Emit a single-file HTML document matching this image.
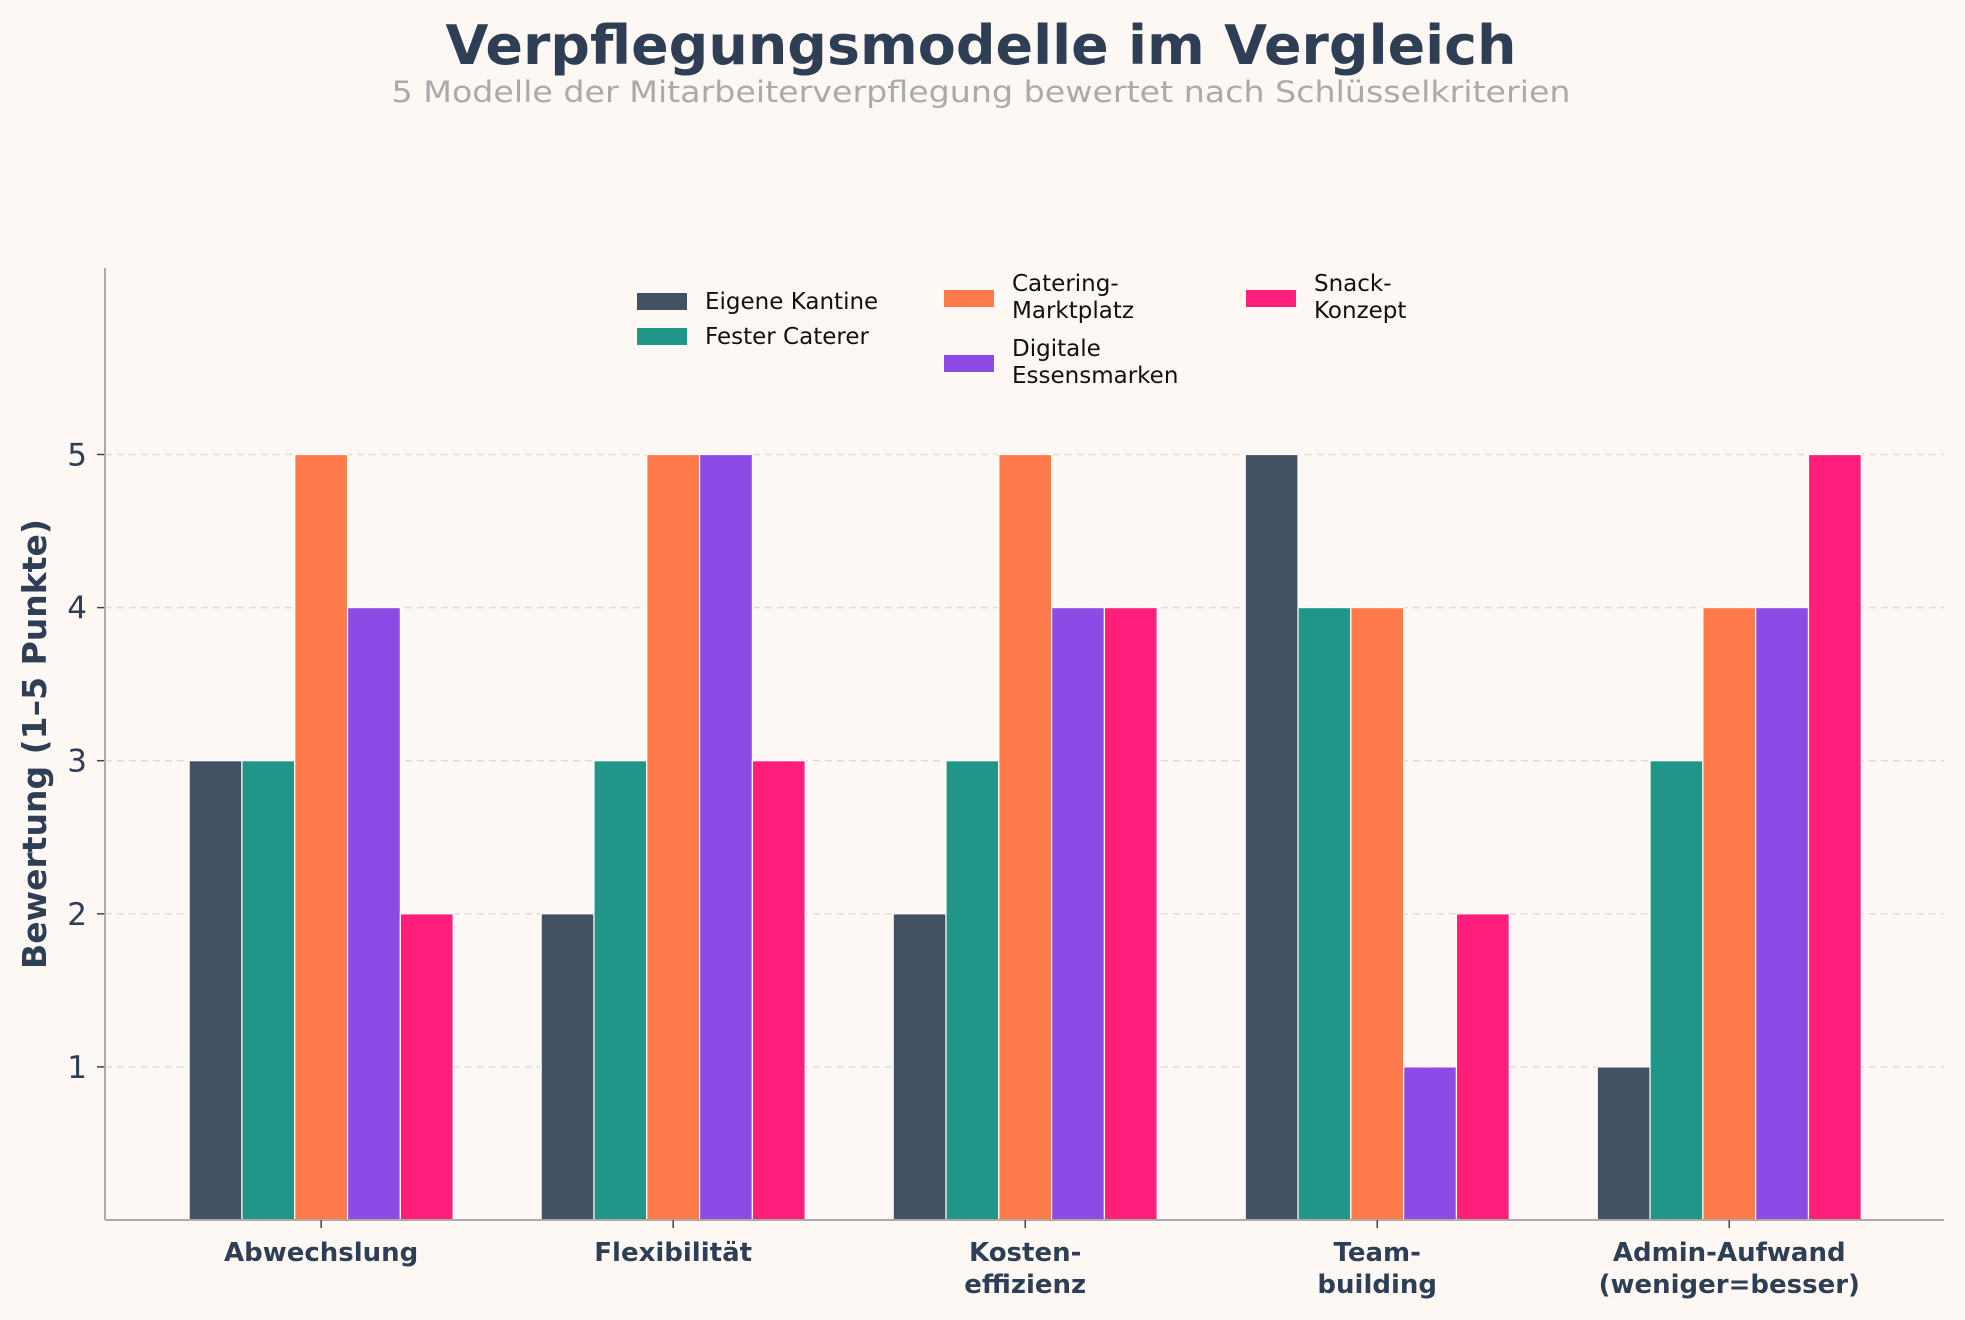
<!DOCTYPE html>
<html><head><meta charset="utf-8">
<style>
html,body{margin:0;padding:0;background:#fdf8f4;}
svg{display:block;font-family:"DejaVu Sans","Liberation Sans",sans-serif;}
</style></head>
<body>
<svg id="chart" width="1965" height="1320" viewBox="0 0 1965 1320" xmlns="http://www.w3.org/2000/svg">
<rect x="0" y="0" width="1965" height="1320" fill="#fdf8f4"/>
<text x="981" y="64" text-anchor="middle" font-size="54" font-weight="bold" fill="#2e3e55" textLength="1071" lengthAdjust="spacingAndGlyphs">Verpflegungsmodelle im Vergleich</text>
<text x="981" y="102" text-anchor="middle" font-size="29" fill="#aaaaaa" textLength="1179" lengthAdjust="spacingAndGlyphs">5 Modelle der Mitarbeiterverpflegung bewertet nach Schlüsselkriterien</text>
<g id="grid"></g>
<g id="bars"></g>
<g id="axes"></g>
<g id="legend"></g>
</svg>
<script>
const categories = [["Abwechslung"],["Flexibilität"],["Kosten-","effizienz"],["Team-","building"],["Admin-Aufwand","(weniger=besser)"]];
const seriesNames = [["Eigene Kantine"],["Fester Caterer"],["Catering-","Marktplatz"],["Digitale","Essensmarken"],["Snack-","Konzept"]];
const eigeneKantine = [3,2,2,5,1];
const festerCaterer = [3,3,3,4,3];
const cateringMarktplatz = [5,5,5,4,4];
const digitaleEssensmarken = [4,5,4,1,4];
const snackKonzept = [2,3,4,2,5];
const yTicks = [1,2,3,4,5];

const series = [eigeneKantine, festerCaterer, cateringMarktplatz, digitaleEssensmarken, snackKonzept];
const colors = ["#435165","#1f9688","#ff7a4a","#8e4ae6","#ff1f7a"];
const NS = "http://www.w3.org/2000/svg";
const L=105, R=1944, B=1220, T=268;
const yMax = (B-T)/153.1;
const xMin=-0.614, xMax=4.61;
function xs(v){return L+(v-xMin)/(xMax-xMin)*(R-L);}
function ys(v){return B-v/yMax*(B-T);}
function mk(tag, attrs, parent){const e=document.createElementNS(NS,tag);for(const k in attrs)e.setAttribute(k,attrs[k]);parent.appendChild(e);return e;}
const grid=document.getElementById('grid'), bars=document.getElementById('bars'), axes=document.getElementById('axes'), legend=document.getElementById('legend');
const bw=0.15;
yTicks.forEach(t=>{
  const g=mk('line',{x1:L,x2:R,y1:ys(t),y2:ys(t),stroke:'#e2dcd8','stroke-width':1.5,'stroke-dasharray':'7,5'},grid);
  
  
  const tk=mk('line',{x1:L-8,x2:L,y1:ys(t),y2:ys(t),stroke:'#444','stroke-width':1.5},axes);
  
  
  const lb=mk('text',{x:L-18,y:ys(t)+11,'text-anchor':'end','font-size':31,fill:'#2e3e55'},axes);
  lb.textContent=t;
  
  
});
series.forEach((vals,s)=>{
  vals.forEach((v,i)=>{
    const c=i+(s-2)*bw;
    const r=mk('rect',{x:xs(c-bw/2),y:ys(v),width:xs(c+bw/2)-xs(c-bw/2),height:B-ys(v),fill:colors[s],stroke:'#ffffff','stroke-width':1.2},bars);
    
    
  });
});
const yl=mk('line',{x1:L,x2:L,y1:T,y2:B,stroke:'#b0aaa6','stroke-width':2},axes);


const xl=mk('line',{x1:L,x2:R,y1:B,y2:B,stroke:'#b0aaa6','stroke-width':2},axes);


categories.forEach((lines,i)=>{
  const tk=mk('line',{x1:xs(i),x2:xs(i),y1:B,y2:B+8,stroke:'#444','stroke-width':1.5},axes);
  
  
  const t=mk('text',{x:xs(i),'text-anchor':'middle','font-size':26,'font-weight':'bold',fill:'#2e3e55'},axes);
  
  
  lines.forEach((ln,j)=>{const sp=mk('tspan',{x:xs(i),y:B+41+j*32},t);sp.textContent=ln;});
});
const yt=mk('text',{x:0,y:0,'text-anchor':'middle','font-size':33,'font-weight':'bold',fill:'#2e3e55',transform:'translate(46,744) rotate(-90)'},axes);
yt.textContent='Bewertung (1–5 Punkte)';


// legend
const legPos=[[637,301],[637,336],[944,298],[944,363],[1246,298]];
seriesNames.forEach((lines,s)=>{
  const [px,py]=legPos[s];
  const p=mk('rect',{x:px,y:py-8,width:50,height:17,fill:colors[s]},legend);
  
  
  const t=mk('text',{'font-size':23,fill:'#111'},legend);
  
  
  const off = lines.length===1 ? 8 : -7;
  lines.forEach((ln,j)=>{const sp=mk('tspan',{x:px+68,y:py+off+j*27},t);sp.textContent=ln;});
});
</script>
</body></html>
